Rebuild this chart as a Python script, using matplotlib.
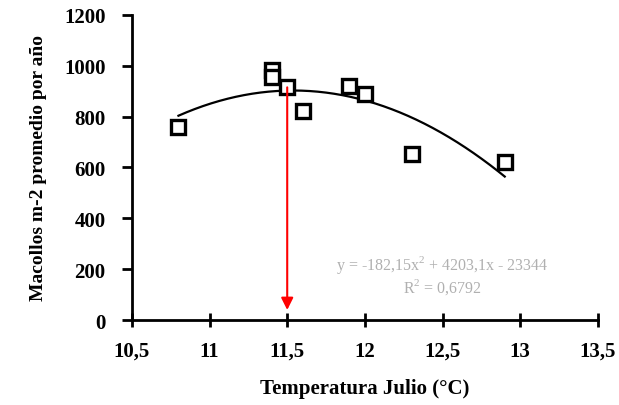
import numpy as np
import matplotlib
matplotlib.use("Agg")
import matplotlib.pyplot as plt
from matplotlib.ticker import FuncFormatter

# Data
temp_julio = [10.8, 11.4, 11.4, 11.5, 11.6, 11.9, 12.0, 12.3, 12.9]
macollos = [760, 985, 955, 915, 822, 920, 888, 654, 622]

# Trend line coefficients (from equation label)
coef = [-182.15, 4203.1, -23344]
eq_label = "y = -182,15x$^{2}$ + 4203,1x - 23344"
r2_label = "R$^{2}$ = 0,6792"

arrow_x = 11.5
arrow_top = 915
arrow_bottom = 40

xticks = [10.5, 11, 11.5, 12, 12.5, 13, 13.5]
yticks = [0, 200, 400, 600, 800, 1000, 1200]

plt.rcParams['font.family'] = ['Liberation Serif', 'DejaVu Serif']
plt.rcParams['mathtext.fontset'] = 'custom'
plt.rcParams['mathtext.rm'] = 'Liberation Serif'

fig = plt.figure(figsize=(6.19, 4.06), dpi=100)
ax = fig.add_axes([0.213, 0.209, 0.753, 0.752])

xs = np.linspace(min(temp_julio), max(temp_julio), 200)
ax.plot(xs, np.polyval(coef, xs), color='black', lw=1.6, zorder=2)
ax.plot(temp_julio, macollos, linestyle='none', marker='s', markersize=9.5,
        markerfacecolor='white', markeredgecolor='black', markeredgewidth=2.4, zorder=3)

ax.annotate('', xy=(arrow_x, arrow_bottom), xytext=(arrow_x, arrow_top),
            arrowprops=dict(arrowstyle='-|>', color='#ff0000', lw=1.5,
                            mutation_scale=18, shrinkA=0, shrinkB=0), zorder=4)

ax.text(12.5, 220, eq_label, ha='center', va='center', fontsize=11.5, color='#b0b0b0')
ax.text(12.5, 134, r2_label, ha='center', va='center', fontsize=11.5, color='#b0b0b0')

ax.set_xlim(10.5, 13.5)
ax.set_ylim(0, 1200)
ax.set_xticks(xticks)
ax.set_yticks(yticks)
fmt = FuncFormatter(lambda v, p: ('%g' % v).replace('.', ','))
ax.xaxis.set_major_formatter(fmt)

for s in ['top', 'right']:
    ax.spines[s].set_visible(False)
for s in ['left', 'bottom']:
    ax.spines[s].set_linewidth(2)
ax.tick_params(axis='x', direction='inout', length=10, width=2, labelsize=15, pad=10)
ax.tick_params(axis='y', direction='out', length=7, width=2, labelsize=15, pad=12)
for lab in ax.get_xticklabels() + ax.get_yticklabels():
    lab.set_fontweight('bold')

ax.set_xlabel('Temperatura Julio (°C)', fontsize=15, fontweight='bold', labelpad=12)
ax.set_ylabel('Macollos m-2 promedio por año', fontsize=14, fontweight='bold', labelpad=12)

fig.savefig('out.png', dpi=100, facecolor='white')
